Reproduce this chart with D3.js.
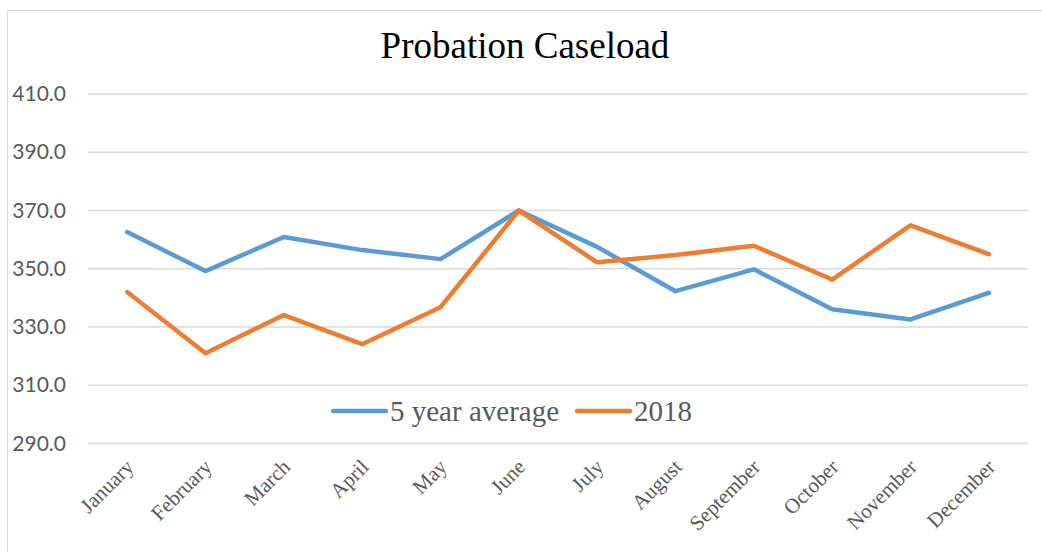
<!DOCTYPE html>
<html><head><meta charset="utf-8">
<script src="https://cdn.jsdelivr.net/npm/d3@7"></script>
<style>body{margin:0;background:#fff}svg{display:block}</style>
</head><body>
<script>
const months = ["January","February","March","April","May","June","July","August","September","October","November","December"];
const avg5 = [362.6,349.2,360.9,356.4,353.3,370.0,357.5,342.3,349.8,336.1,332.6,341.7];
const y2018 = [342.0,321.0,334.1,324.1,336.8,370.0,352.2,354.7,357.9,346.3,364.9,355.0];
const yTicks = [290,310,330,350,370,390,410];
const seriesNames = ["5 year average","2018"];
const colors = ["#5b9bd5","#ed7d31"];

const W=1042,H=552;
const svg=d3.select("body").append("svg").attr("width",W).attr("height",H);
svg.append("rect").attr("x",7.5).attr("y",10.5).attr("width",W).attr("height",H).attr("fill","#fff").attr("stroke","#d9d9d9").attr("stroke-width",1);

const x=d3.scalePoint().domain(months).range([88,1028]).padding(0.5);
const y=d3.scaleLinear().domain([290,410]).range([443.5,94]);

svg.append("text").attr("x",525).attr("y",58).attr("text-anchor","middle")
  .attr("font-family","Liberation Serif, Times New Roman, serif").attr("font-size",37).attr("fill","#000").text("Probation Caseload");

const g=svg.append("g");
g.selectAll("line.grid").data(yTicks).join("line").attr("class","grid")
  .attr("x1",88).attr("x2",1028).attr("y1",d=>y(d)).attr("y2",d=>y(d))
  .attr("stroke","#d9d9d9").attr("stroke-width",1.5);

const yAxis=d3.axisLeft(y).tickValues(yTicks).tickFormat(d3.format(".1f")).tickSize(0).tickPadding(0);
const ya=svg.append("g").attr("transform","translate(66,0)").call(yAxis);
ya.select(".domain").remove();
ya.selectAll("text").attr("font-family","Lato, Open Sans, sans-serif").attr("font-size",21).attr("fill","#595959");

const xAxis=d3.axisBottom(x).tickSize(0).tickPadding(0);
const xa=svg.append("g").attr("transform","translate(0,463)").call(xAxis);
xa.select(".domain").remove();
xa.selectAll("text").attr("font-family","Liberation Serif, Times New Roman, serif").attr("font-size",21).attr("fill","#595959")
  .attr("text-anchor","end").attr("dy","0.35em").attr("transform","translate(2,0) rotate(-45)");

const line=d3.line().x((d,i)=>x(months[i])).y(d=>y(d));
[avg5,y2018].forEach((s,k)=>{
  g.append("path").datum(s).attr("d",line).attr("fill","none").attr("stroke",colors[k])
   .attr("stroke-width",4.5).attr("stroke-linejoin","round").attr("stroke-linecap","round");
});

// legend
const leg=svg.append("g");
const legItems=[{x:333,tx:390},{x:577,tx:634}];
seriesNames.forEach((n,k)=>{
  leg.append("line").attr("x1",legItems[k].x).attr("x2",legItems[k].x+53).attr("y1",411).attr("y2",411)
    .attr("stroke",colors[k]).attr("stroke-width",4.5).attr("stroke-linecap","round");
  leg.append("text").attr("x",legItems[k].tx).attr("y",421).attr("font-family","Liberation Serif, Times New Roman, serif")
    .attr("font-size",29).attr("fill","#595959").text(n);
});
</script>
</body></html>
